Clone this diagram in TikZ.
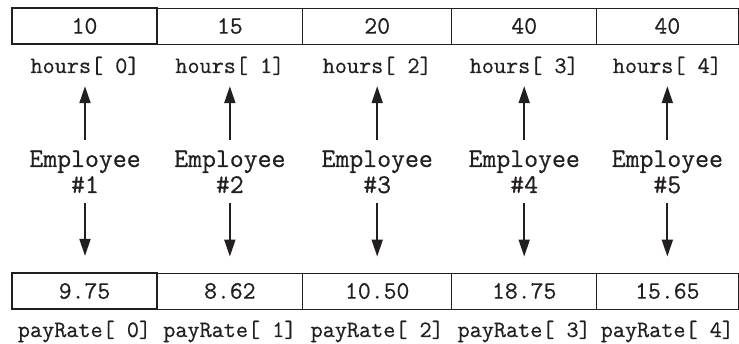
\documentclass[tikz,border=0pt]{standalone}
\usepackage{fontspec}
\newfontfamily\codefont[FakeBold=0.6]{Latin Modern Mono}
\usetikzlibrary{arrows.meta}
\definecolor{ink}{HTML}{231F20}

\begin{document}
\begin{tikzpicture}[
  x=1pt, y=1pt,
  cell/.style={draw=ink, line width=0.9pt, minimum height=36pt, inner sep=0pt, text=ink, font=\codefont\fontsize{25}{28}\selectfont},
  first/.style={line width=2.2pt},
  idx/.style={inner sep=0pt, text height=15pt, text depth=4pt, anchor=base, text=ink, font=\codefont\fontsize{23.5}{26}\selectfont},
  who/.style={inner sep=0pt, text height=15pt, text depth=4pt, anchor=base, text=ink, font=\codefont\fontsize{27}{28}\selectfont},
  arr/.style={-{Triangle[width=11pt,length=17pt]}, line width=1.9pt, color=ink},
]
\useasboundingbox (0,0) rectangle (739,-344);

% hours row
\node[cell, first, minimum width=145pt] (h0) at (84.5, -26) {10};
\node[cell, minimum width=145.7pt] (h1) at (229.85, -26) {15};
\node[cell, minimum width=149pt] (h2) at (377.2, -26) {20};
\node[cell, minimum width=145pt] (h3) at (524.2, -26) {40};
\node[cell, minimum width=141.3pt] (h4) at (667.35, -26) {40};

\node[idx] (hl0) at (85, -73) {hours[ 0]};
\node[idx] (hl1) at (229.85, -73) {hours[ 1]};
\node[idx] (hl2) at (377.2, -73) {hours[ 2]};
\node[idx] (hl3) at (524.2, -73) {hours[ 3]};
\node[idx] (hl4) at (667.35, -73) {hours[ 4]};

% employees
\node[who] (emp0) at (85, -167) {Employee};
\node[who] (emp1) at (229.85, -167) {Employee};
\node[who] (emp2) at (377.2, -167) {Employee};
\node[who] (emp3) at (524.2, -167) {Employee};
\node[who] (emp4) at (667.35, -167) {Employee};

\node[who] (num0) at (85, -193) {\#1};
\node[who] (num1) at (229.85, -193) {\#2};
\node[who] (num2) at (377.2, -193) {\#3};
\node[who] (num3) at (524.2, -193) {\#4};
\node[who] (num4) at (667.35, -193) {\#5};

% payRate row
\node[cell, first, minimum width=145pt] (p0) at (84.5, -291) {9.75};
\node[cell, minimum width=145.7pt] (p1) at (229.85, -291) {8.62};
\node[cell, minimum width=149pt] (p2) at (377.2, -291) {10.50};
\node[cell, minimum width=145pt] (p3) at (524.2, -291) {18.75};
\node[cell, minimum width=141.3pt] (p4) at (667.35, -291) {15.65};

\node[idx] (pl0) at (84.5, -337) {payRate[ 0]};
\node[idx] (pl1) at (229.85, -337) {payRate[ 1]};
\node[idx] (pl2) at (377.2, -337) {payRate[ 2]};
\node[idx] (pl3) at (524.2, -337) {payRate[ 3]};
\node[idx] (pl4) at (667.35, -337) {payRate[ 4]};

\draw[arr, shorten <=12pt, shorten >=9pt] (emp0) -- (hl0);
\draw[arr, shorten <=12pt, shorten >=9pt] (emp1) -- (hl1);
\draw[arr, shorten <=12pt, shorten >=9pt] (emp2) -- (hl2);
\draw[arr, shorten <=12pt, shorten >=9pt] (emp3) -- (hl3);
\draw[arr, shorten <=12pt, shorten >=9pt] (emp4) -- (hl4);

\draw[arr, shorten <=6pt, shorten >=16pt] (num0) -- (num0 |- p0.north);
\draw[arr, shorten <=6pt, shorten >=16pt] (num1) -- (p1);
\draw[arr, shorten <=6pt, shorten >=16pt] (num2) -- (p2);
\draw[arr, shorten <=6pt, shorten >=16pt] (num3) -- (p3);
\draw[arr, shorten <=6pt, shorten >=16pt] (num4) -- (p4);

\end{tikzpicture}
\end{document}
